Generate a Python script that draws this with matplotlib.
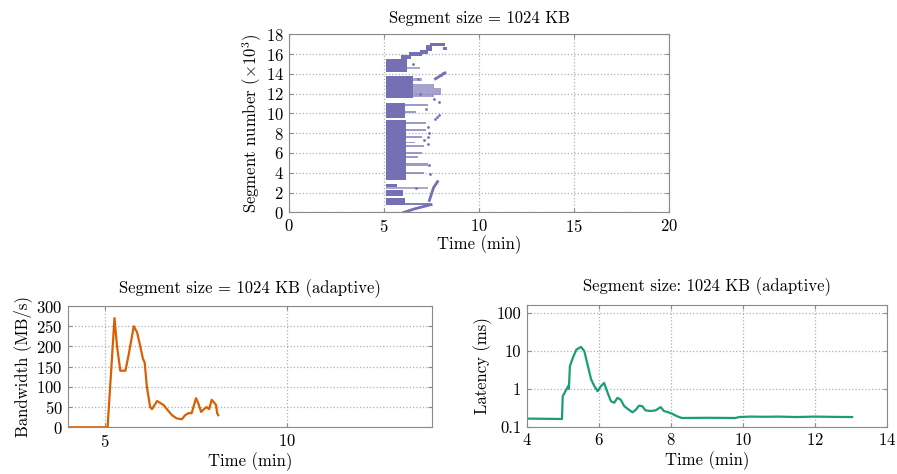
import numpy as np
import matplotlib
matplotlib.use("Agg")
import matplotlib.pyplot as plt

plt.rcParams['font.family'] = ['cmr10', 'DejaVu Serif']
plt.rcParams['mathtext.fontset'] = 'cm'
plt.rcParams['axes.formatter.use_mathtext'] = True
plt.rcParams['font.size'] = 12

PURPLE = '#7570b3'
ORANGE = '#d95f02'
GREEN = '#1b9e77'
SPINE = '#8a8a8a'

# --- segment scatter: regions as (y0, y1, t0, t1, density), y in thousands ---
seg_bands = [
    (0.75, 1.45, 5.12, 6.10, 1.0), (0.75, 0.95, 6.10, 7.40, 0.9),
    (1.65, 2.30, 5.12, 6.00, 1.0), (2.38, 2.52, 5.12, 7.30, 0.6), (2.55, 2.85, 5.12, 5.70, 1.0),
    (3.25, 9.30, 5.12, 6.15, 1.0),
    (3.85, 4.10, 6.15, 7.10, 0.7), (4.70, 4.95, 6.15, 7.30, 0.7), (5.50, 5.70, 6.15, 6.80, 0.7),
    (5.90, 6.10, 6.15, 7.00, 0.7), (6.65, 6.85, 6.15, 7.10, 0.7), (7.00, 7.15, 6.15, 6.60, 0.7),
    (7.55, 7.75, 6.15, 7.00, 0.7), (8.20, 8.40, 6.15, 7.20, 0.7), (8.95, 9.15, 6.15, 7.20, 0.7),
    (9.55, 11.10, 5.12, 6.10, 1.0), (10.80, 11.00, 6.10, 7.30, 0.7), (10.05, 10.20, 6.10, 6.70, 0.7),
    (11.55, 13.80, 5.12, 6.50, 1.0), (11.70, 13.00, 6.50, 7.60, 0.65), (11.90, 12.60, 7.60, 8.00, 0.65),
    (13.30, 13.60, 6.50, 7.00, 0.6),
    (14.20, 15.55, 5.12, 6.20, 1.0), (14.50, 14.70, 6.20, 6.90, 0.6),
    (15.50, 15.90, 5.90, 6.40, 1.0), (15.80, 16.20, 6.30, 7.00, 1.0), (16.00, 16.40, 6.90, 7.30, 1.0),
    (16.30, 16.90, 7.20, 7.50, 1.0), (16.80, 17.15, 7.40, 8.20, 1.0), (16.40, 16.70, 8.10, 8.30, 1.0),
]
# sparse points (time, segment x10^3)
seg_dots_t = [7.30, 7.35, 7.10, 7.30, 7.35, 7.30, 7.80, 7.70, 7.90, 8.10, 8.00, 6.90, 7.60, 7.90, 6.50, 7.20, 6.80, 7.40, 6.70]
seg_dots_y = [8.60, 8.00, 7.30, 6.90, 4.80, 7.60, 9.60, 9.40, 9.80, 14.10, 13.90, 12.00, 11.50, 11.20, 15.00, 10.40, 13.50, 3.90, 2.45]
# thin diagonal strokes of points
seg_strokes = [
    ([5.90, 6.60, 7.47], [-0.10, 0.35, 0.78]),
    ([7.38, 7.60, 7.81], [1.20, 2.50, 3.10]),
    ([7.70, 7.95, 8.20], [13.50, 13.80, 14.10]),
]

# --- bandwidth ---
bw_t = [4.00, 5.08, 5.27, 5.34, 5.43, 5.57, 5.66, 5.80, 5.89, 5.98, 6.05, 6.10, 6.16, 6.25,
        6.30, 6.44, 6.53, 6.62, 6.71, 6.85, 6.98, 7.12, 7.21, 7.30, 7.39, 7.51, 7.57, 7.65,
        7.73, 7.80, 7.87, 7.94, 8.00, 8.06, 8.09, 8.12]
bw_v = [0, 0, 270, 200, 140, 140, 180, 250, 235, 200, 170, 160, 100, 50,
        45, 65, 60, 55, 45, 30, 22, 20, 30, 35, 35, 72, 60, 38,
        45, 50, 45, 68, 62, 55, 35, 30]

# --- latency ---
lat_t = [4.00, 4.98, 5.00, 5.05, 5.15, 5.17, 5.20, 5.28, 5.38, 5.51, 5.60, 5.70, 5.79, 5.88,
         5.97, 6.06, 6.15, 6.25, 6.34, 6.43, 6.52, 6.61, 6.71, 6.84, 6.94, 7.03, 7.12, 7.21,
         7.30, 7.44, 7.58, 7.72, 7.81, 7.94, 8.04, 8.17, 8.31, 9.00, 9.80, 9.90, 10.20, 10.60,
         11.00, 11.50, 12.00, 12.50, 13.04]
lat_v = [0.164, 0.160, 0.64, 0.78, 1.18, 1.00, 4.0, 6.6, 11.0, 12.9, 10.0, 4.0, 1.77, 1.18,
         0.87, 1.18, 1.44, 0.78, 0.47, 0.43, 0.58, 0.52, 0.35, 0.28, 0.24, 0.28, 0.36, 0.35,
         0.27, 0.26, 0.27, 0.33, 0.26, 0.24, 0.22, 0.19, 0.17, 0.172, 0.170, 0.180, 0.185, 0.183,
         0.185, 0.180, 0.185, 0.182, 0.180]


def style(ax):
    ax.grid(True, linestyle=':', color='#b0b0b0', linewidth=0.9)
    ax.set_axisbelow(True)
    for s in ax.spines.values():
        s.set_color(SPINE)
    ax.tick_params(direction='in', length=3, color=SPINE, top=True, right=True,
                   labelsize=12, pad=4)


fig = plt.figure(figsize=(8.97, 4.74), dpi=100)

ax1 = fig.add_axes([0.3225, 0.5521, 0.4233, 0.3755])
for y0, y1, t0, t1, d in seg_bands:
    ax1.broken_barh([(t0, t1 - t0)], (y0, y1 - y0), facecolors=PURPLE,
                    edgecolor='none', alpha=d)
ax1.scatter(seg_dots_t, seg_dots_y, s=4, color=PURPLE, linewidths=0)
for ts, ys in seg_strokes:
    ax1.plot(ts, ys, color=PURPLE, lw=2)
ax1.set_xlim(0, 20)
ax1.set_ylim(0, 18)
ax1.set_xticks([0, 5, 10, 15, 20])
ax1.set_yticks(range(0, 19, 2))
ax1.set_xlabel('Time (min)', labelpad=0)
ax1.set_ylabel(r'Segment number ($\times 10^3$)', labelpad=1)
ax1.set_title('Segment size = 1024 KB', fontsize=12, pad=8)
style(ax1)

ax2 = fig.add_axes([0.0761, 0.0985, 0.4058, 0.2559])
ax2.plot(bw_t, bw_v, color=ORANGE, lw=1.6)
ax2.set_xlim(4, 14)
ax2.set_ylim(0, 300)
ax2.set_xticks([5, 10])
ax2.set_yticks(range(0, 301, 50))
ax2.set_xlabel('Time (min)', labelpad=2)
ax2.set_ylabel('Bandwidth (MB/s)', labelpad=3)
ax2.set_title('Segment size = 1024 KB (adaptive)', fontsize=12, pad=9)
style(ax2)

ax3 = fig.add_axes([0.5872, 0.0998, 0.4013, 0.2567])
ax3.plot(lat_t, lat_v, color=GREEN, lw=1.6)
ax3.set_yscale('log')
ax3.set_xlim(4, 14)
ax3.set_ylim(0.1, 166)
ax3.set_xticks(range(4, 15, 2))
ax3.set_yticks([0.1, 1, 10, 100])
ax3.set_yticklabels(['0.1', '1', '10', '100'])
ax3.minorticks_off()
ax3.set_xlabel('Time (min)', labelpad=2)
ax3.set_ylabel('Latency (ms)', labelpad=3)
ax3.set_title('Segment size: 1024 KB (adaptive)', fontsize=12, pad=10)
style(ax3)

fig.savefig('out.png', dpi=100)
